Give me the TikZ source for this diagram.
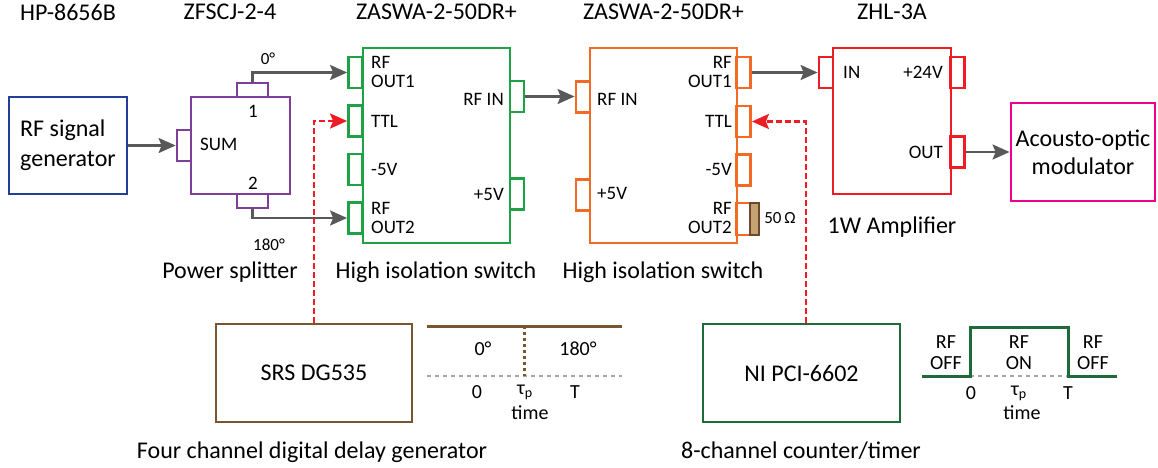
\documentclass[tikz,border=0pt]{standalone}
\usepackage{fontspec}
\setmainfont{Carlito}
\usepackage{tikz}
\usetikzlibrary{arrows.meta}
\definecolor{genblue}{HTML}{213F99}
\definecolor{splitpurple}{HTML}{7E3F98}
\definecolor{swgreen}{HTML}{1FA245}
\definecolor{sworange}{HTML}{F36A24}
\definecolor{ampred}{HTML}{EE1C25}
\definecolor{aompink}{HTML}{EC008C}
\definecolor{srsbrown}{HTML}{7B5430}
\definecolor{nigreen}{HTML}{1D6B3B}
\definecolor{wiregray}{HTML}{595959}
\definecolor{resfill}{HTML}{C8A173}
\definecolor{resedge}{HTML}{6B4A2B}

\tikzset{
  devbox/.style={draw, line width=2.8pt, inner sep=0pt},
  hport/.style={draw, line width=2.8pt, minimum width=14pt, minimum height=31pt, inner sep=0pt},
  vport/.style={hport, minimum width=31pt, minimum height=14pt},
  wire/.style={wiregray, line width=2.5pt, -{Stealth[length=17pt,width=15pt,inset=3pt]}},
  ttlline/.style={ampred, line width=2.5pt, dash pattern=on 6pt off 3pt, -{Stealth[length=17pt,width=15pt,inset=3pt]}},
  biglbl/.style={font=\fontsize{24}{30}\selectfont, inner sep=0pt},
  portlbl/.style={font=\fontsize{19}{19}\selectfont, inner sep=0pt},
  degl/.style={font=\fontsize{17}{19}\selectfont, inner sep=0pt},
  timelbl/.style={font=\fontsize{20}{21}\selectfont, inner sep=0pt, align=center},
}

\begin{document}
\begin{tikzpicture}[x=1pt,y=-1pt]
\useasboundingbox (0,0) rectangle (1158,467);

% part numbers
\node[biglbl] (tgen) at (68,12) {HP-8656B};
\node[biglbl] (tsplit) at (230,12) {ZFSCJ-2-4};
\node[biglbl] (tswa) at (436.5,12) {ZASWA-2-50DR+};
\node[biglbl] (tswb) at (663.5,12) {ZASWA-2-50DR+};
\node[biglbl] (tamp) at (892,12) {ZHL-3A};

% signal generator
\node[devbox, draw=genblue, minimum width=118pt, minimum height=97pt, biglbl, align=left] (gen) at (68,145.5) {RF signal\\generator};

% power splitter
\node[devbox, draw=splitpurple, minimum width=99pt, minimum height=97pt] (split) at (240.5,145.5) {};
\node[hport, draw=splitpurple] (sum) at (184,145.5) {};
\node[vport, draw=splitpurple] (sp1) at (252.5,90) {};
\node[vport, draw=splitpurple] (sp2) at (252.5,201) {};
\node[portlbl, anchor=west] (lsum) at (200,144) {SUM};
\node[portlbl] (lone) at (253,111) {1};
\node[portlbl] (ltwo) at (253,183) {2};

% first switch
\node[devbox, draw=swgreen, minimum width=147pt, minimum height=195pt] (swa) at (436.5,145.5) {};
\node[hport, draw=swgreen] (swaout1) at (355.5,72.5) {};
\node[hport, draw=swgreen] (swattl) at (355.5,121) {};
\node[hport, draw=swgreen] (swaneg) at (355.5,169.5) {};
\node[hport, draw=swgreen] (swaout2) at (355.5,218) {};
\node[hport, draw=swgreen] (swain) at (517,96.5) {};
\node[hport, draw=swgreen] (swapos) at (517,194) {};
\node[portlbl, anchor=west, align=left] (lswaout1) at (371,71.5) {RF\\OUT1};
\node[portlbl, anchor=west] (lswattl) at (371,121) {TTL};
\node[portlbl, anchor=west] (lswaneg) at (371,169.5) {-5V};
\node[portlbl, anchor=west, align=left] (lswaout2) at (371,218) {RF\\OUT2};
\node[portlbl, anchor=east] (lswain) at (504,99) {RF IN};
\node[portlbl, anchor=east] (lswapos) at (504,194) {+5V};

% second switch
\node[devbox, draw=sworange, minimum width=147pt, minimum height=195pt] (swb) at (663.5,145.5) {};
\node[hport, draw=sworange] (swbin) at (583,97) {};
\node[hport, draw=sworange] (swbpos) at (583,195) {};
\node[hport, draw=sworange] (swbout1) at (743.5,72.5) {};
\node[hport, draw=sworange] (swbttl) at (743.5,121.5) {};
\node[hport, draw=sworange] (swbneg) at (743.5,170) {};
\node[hport, draw=sworange, minimum height=32pt] (swbout2) at (743.5,219) {};
\node[draw=resedge, fill=resfill, line width=1.8pt, minimum width=9pt, minimum height=32pt, inner sep=0pt] (load) at (754.5,219) {};
\node[portlbl, anchor=west] (lswbin) at (597,99) {RF IN};
\node[portlbl, anchor=west] (lswbpos) at (597,193) {+5V};
\node[portlbl, anchor=east, align=right] (lswbout1) at (732,71.5) {RF\\OUT1};
\node[portlbl, anchor=east] (lswbttl) at (732,121) {TTL};
\node[portlbl, anchor=east] (lswbneg) at (732,169) {-5V};
\node[portlbl, anchor=east, align=right] (lswbout2) at (732,218) {RF\\OUT2};
\node[degl] (lload) at (780,218) {50\,Ω};

% amplifier and modulator
\node[devbox, draw=ampred, minimum width=118pt, minimum height=146pt] (amp) at (892,121) {};
\node[hport, draw=ampred] (ampin) at (826,72.5) {};
\node[hport, draw=ampred] (amppwr) at (957.5,72.5) {};
\node[hport, draw=ampred] (ampout) at (957.5,152) {};
\node[portlbl, anchor=west] (lampin) at (843,72) {IN};
\node[portlbl, anchor=east] (lamppwr) at (943,72) {+24V};
\node[portlbl, anchor=east] (lampout) at (943,152) {OUT};
\node[devbox, draw=aompink, minimum width=144pt, minimum height=98pt, biglbl, font=\fontsize{24}{28}\selectfont, align=center] (aom) at (1083,152) {Acousto-optic\\modulator};

% timing sources
\node[devbox, draw=srsbrown, minimum width=196pt, minimum height=98pt, biglbl] (srs) at (314,373) {SRS DG535};
\node[devbox, draw=nigreen, minimum width=197pt, minimum height=98pt, biglbl] (ni) at (801.5,373) {NI PCI-6602};

% captions
\node[biglbl, anchor=base] (csplit) at (230,278.5) {Power splitter};
\node[biglbl, anchor=base] (cswa) at (436,278) {High isolation switch};
\node[biglbl, anchor=base] (cswb) at (663,278) {High isolation switch};
\node[biglbl, anchor=base] (camp) at (892,233.5) {1W Amplifier};
\node[biglbl, anchor=base] (csrs) at (312,458) {Four channel digital delay generator};
\node[biglbl, anchor=base] (cni) at (801,458.5) {8-channel counter/timer};

% rf path
\draw[wire] (gen.east) -- (sum.west);
\draw[wire] (sp1.north) |- (swaout1.west);
\draw[wire] (sp2.south) |- (swaout2.west);
\node[degl] (lzero) at (268,59) {0°};
\node[degl] (lpi) at (269,245) {180°};
\draw[wire] (swain.east) -- (swain.east -| swbin.west);
\draw[wire] (swbout1.east) -- (ampin.west);
\draw[wire] (ampout.east) -- (aom.west);

% ttl lines
\draw[ttlline] (srs.north) |- (swattl.west);
\draw[ttlline] ([xshift=4.5pt]ni.north) |- (swbttl.east);

% phase timing
\draw[srsbrown, line width=3pt] (427,326) -- (622,326);
\draw[gray!70, line width=1.2pt, dash pattern=on 4pt off 4pt] (427,376) -- (622,376);
\draw[srsbrown, line width=3pt, dash pattern=on 3pt off 3pt] (524,326) -- (524,376);
\node[timelbl] (pzero) at (483,349) {0°};
\node[timelbl] (ppi) at (578,349) {180°};
\node[timelbl] (pt0) at (477,392) {0};
\node[timelbl] (ptau) at (525,392) {τ\textsubscript{p}};
\node[timelbl] (ptT) at (575,392) {T};
\node[timelbl] (ptime) at (530,413) {time};

% switching timing
\draw[gray!70, line width=1.2pt, dash pattern=on 4pt off 4pt] (970,376) -- (1068,376);
\draw[nigreen, line width=3pt] (922,376) -- (970,376) -- (970,327) -- (1068,327) -- (1068,376) -- (1117,376);
\node[timelbl] (soff1) at (946,352.5) {RF\\OFF};
\node[timelbl] (son) at (1019,352.5) {RF\\ON};
\node[timelbl] (soff2) at (1093,352.5) {RF\\OFF};
\node[timelbl] (st0) at (971,393) {0};
\node[timelbl] (stau) at (1019,393) {τ\textsubscript{p}};
\node[timelbl] (stT) at (1068,393) {T};
\node[timelbl] (stime) at (1022,413) {time};
\end{tikzpicture}
\end{document}
